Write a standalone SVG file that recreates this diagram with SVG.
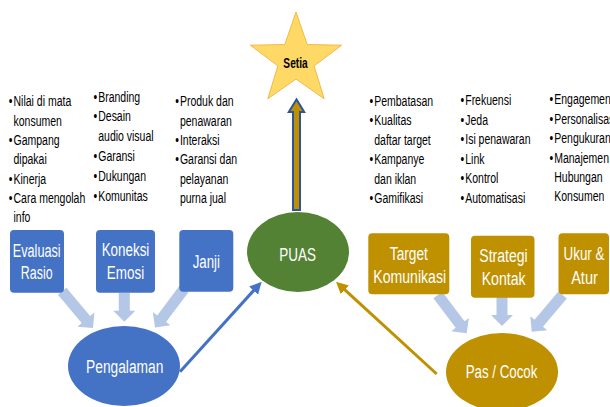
<svg xmlns="http://www.w3.org/2000/svg" width="610" height="407" viewBox="0 0 610 407">
<style>
.bl{font-family:"Liberation Sans",Arial,sans-serif;font-size:14px;fill:#000}
.lbl{font-family:"Liberation Sans",Arial,sans-serif;fill:#fff;text-anchor:middle;font-size:18px}
.blue{fill:#4472C4}
.gold{fill:#BF9000}
.blk{fill:#B4C7E7}
</style>
<defs>
<marker id="ahB" markerUnits="userSpaceOnUse" markerWidth="14" markerHeight="14" refX="4" refY="6" orient="auto" viewBox="0 0 14 12">
<path d="M0,0 L12,6 L0,12 z" fill="#4472C4"/>
</marker>
<marker id="ahG" markerUnits="userSpaceOnUse" markerWidth="14" markerHeight="14" refX="4" refY="6" orient="auto" viewBox="0 0 14 12">
<path d="M0,0 L12,6 L0,12 z" fill="#BF9000"/>
</marker>
</defs>
<rect width="610" height="407" fill="#fff"/>

<!-- bullet lists -->
<g id="list-evaluasi" class="bl" transform="translate(8.8,0) scale(0.75,1)">
<text y="106.5"><tspan x="0">•</tspan><tspan x="6.3">Nilai di mata</tspan></text>
<text x="6.3" y="125.8">konsumen</text>
<text y="145.1"><tspan x="0">•</tspan><tspan x="6.3">Gampang</tspan></text>
<text x="6.3" y="164.4">dipakai</text>
<text y="183.7"><tspan x="0">•</tspan><tspan x="6.3">Kinerja</tspan></text>
<text y="203"><tspan x="0">•</tspan><tspan x="6.3">Cara mengolah</tspan></text>
<text x="6.3" y="222.3">info</text>
</g>
<g id="list-koneksi" class="bl" transform="translate(93.5,0) scale(0.75,1)">
<text y="101.7"><tspan x="0">•</tspan><tspan x="6.3">Branding</tspan></text>
<text y="121.5"><tspan x="0">•</tspan><tspan x="6.3">Desain</tspan></text>
<text x="6.3" y="141.3">audio visual</text>
<text y="161.1"><tspan x="0">•</tspan><tspan x="6.3">Garansi</tspan></text>
<text y="180.9"><tspan x="0">•</tspan><tspan x="6.3">Dukungan</tspan></text>
<text y="200.7"><tspan x="0">•</tspan><tspan x="6.3">Komunitas</tspan></text>
</g>
<g id="list-janji" class="bl" transform="translate(175.2,0) scale(0.75,1)">
<text y="106.5"><tspan x="0">•</tspan><tspan x="6.3">Produk dan</tspan></text>
<text x="6.3" y="125.8">penawaran</text>
<text y="145.1"><tspan x="0">•</tspan><tspan x="6.3">Interaksi</tspan></text>
<text y="164.4"><tspan x="0">•</tspan><tspan x="6.3">Garansi dan</tspan></text>
<text x="6.3" y="183.7">pelayanan</text>
<text x="6.3" y="203">purna jual</text>
</g>
<g id="list-target" class="bl" transform="translate(369.5,0) scale(0.75,1)">
<text y="106"><tspan x="0">•</tspan><tspan x="6.3">Pembatasan</tspan></text>
<text y="125.5"><tspan x="0">•</tspan><tspan x="6.3">Kualitas</tspan></text>
<text x="6.3" y="145">daftar target</text>
<text y="164.5"><tspan x="0">•</tspan><tspan x="6.3">Kampanye</tspan></text>
<text x="6.3" y="184">dan iklan</text>
<text y="203.5"><tspan x="0">•</tspan><tspan x="6.3">Gamifikasi</tspan></text>
</g>
<g id="list-strategi" class="bl" transform="translate(460.5,0) scale(0.75,1)">
<text y="105.5"><tspan x="0">•</tspan><tspan x="6.3">Frekuensi</tspan></text>
<text y="125"><tspan x="0">•</tspan><tspan x="6.3">Jeda</tspan></text>
<text y="144.5"><tspan x="0">•</tspan><tspan x="6.3">Isi penawaran</tspan></text>
<text y="164"><tspan x="0">•</tspan><tspan x="6.3">Link</tspan></text>
<text y="183.5"><tspan x="0">•</tspan><tspan x="6.3">Kontrol</tspan></text>
<text y="203"><tspan x="0">•</tspan><tspan x="6.3">Automatisasi</tspan></text>
</g>
<g id="list-ukur" class="bl" transform="translate(549.5,0) scale(0.75,1)">
<text y="104.5"><tspan x="0">•</tspan><tspan x="6.3">Engagement</tspan></text>
<text y="123.9"><tspan x="0">•</tspan><tspan x="6.3">Personalisasi</tspan></text>
<text y="143.3"><tspan x="0">•</tspan><tspan x="6.3">Pengukuran</tspan></text>
<text y="162.7"><tspan x="0">•</tspan><tspan x="6.3">Manajemen</tspan></text>
<text x="6.3" y="182.1">Hubungan</text>
<text x="6.3" y="201.5">Konsumen</text>
</g>

<!-- connectors -->
<g id="connectors">
<polygon class="blk" points="-48,-5.5 -11,-5.5 -11,-11 0,0 -11,11 -11,5.5 -48,5.5" transform="translate(93,328) rotate(50)"/>
<polygon class="blk" points="-29,-5.5 -11,-5.5 -11,-11 0,0 -11,11 -11,5.5 -29,5.5" transform="translate(124.3,321.7) rotate(90)"/>
<polygon class="blk" points="-48,-5.5 -11,-5.5 -11,-11 0,0 -11,11 -11,5.5 -48,5.5" transform="translate(155,327.5) rotate(127)"/>
<polygon class="blk" points="-48,-5.5 -11,-5.5 -11,-11 0,0 -11,11 -11,5.5 -48,5.5" transform="translate(466.7,333.3) rotate(53)"/>
<polygon class="blk" points="-29,-5.5 -11,-5.5 -11,-11 0,0 -11,11 -11,5.5 -29,5.5" transform="translate(502,326) rotate(90)"/>
<polygon class="blk" points="-48,-5.5 -11,-5.5 -11,-11 0,0 -11,11 -11,5.5 -48,5.5" transform="translate(531.7,331.7) rotate(130)"/>
<line x1="180" y1="371.7" x2="256.3" y2="287.6" stroke="#4472C4" stroke-width="3" marker-end="url(#ahB)"/>
<line x1="436.7" y1="374" x2="341.9" y2="287.1" stroke="#BF9000" stroke-width="3" marker-end="url(#ahG)"/>
<polygon points="293,210 293,112 288.8,112 296.5,99.5 304.2,112 300,112 300,210" fill="#BF9000" stroke="#2F5597" stroke-width="2"/>
</g>

<!-- nodes -->
<g id="setia">
<polygon points="296,12 307.2,44.6 341.7,45.2 314.1,65.9 324.2,98.8 296,79 267.8,98.8 277.9,65.9 250.3,45.2 284.8,44.6" fill="#FFD966" stroke="#F4B942" stroke-width="1"/>
<text x="295.5" y="67.7" font-family="Liberation Sans,Arial,sans-serif" font-size="14" font-weight="bold" fill="#000" text-anchor="middle" textLength="24.3" lengthAdjust="spacingAndGlyphs">Setia</text>
</g>
<g id="evaluasi-rasio">
<rect class="blue" x="10" y="230" width="54" height="62.7" rx="4"/>
<text class="lbl" x="36.7" y="256.5" textLength="48" lengthAdjust="spacingAndGlyphs">Evaluasi</text>
<text class="lbl" x="36.7" y="279" textLength="31.7" lengthAdjust="spacingAndGlyphs">Rasio</text>
</g>
<g id="koneksi-emosi">
<rect class="blue" x="96" y="230" width="59" height="62.7" rx="4"/>
<text class="lbl" x="125.5" y="255.7" textLength="47.7" lengthAdjust="spacingAndGlyphs">Koneksi</text>
<text class="lbl" x="125.5" y="279" textLength="37.3" lengthAdjust="spacingAndGlyphs">Emosi</text>
</g>
<g id="janji">
<rect class="blue" x="179.3" y="230" width="54" height="61.7" rx="4"/>
<text class="lbl" x="206.3" y="268" textLength="27.3" lengthAdjust="spacingAndGlyphs">Janji</text>
</g>
<g id="puas">
<ellipse cx="298" cy="252" rx="51" ry="40" fill="#548235"/>
<text class="lbl" x="297.7" y="261" font-size="22" textLength="36.7" lengthAdjust="spacingAndGlyphs">PUAS</text>
</g>
<g id="pengalaman">
<ellipse class="blue" cx="124" cy="366" rx="56" ry="40"/>
<text class="lbl" x="124.7" y="372.7" font-size="17" textLength="77.3" lengthAdjust="spacingAndGlyphs">Pengalaman</text>
</g>
<g id="target-komunikasi">
<rect class="gold" x="368.3" y="233.3" width="81" height="61" rx="4"/>
<text class="lbl" x="408.8" y="259.5" font-size="19" textLength="38" lengthAdjust="spacingAndGlyphs">Target</text>
<text class="lbl" x="409.7" y="283" font-size="19" textLength="72.7" lengthAdjust="spacingAndGlyphs">Komunikasi</text>
</g>
<g id="strategi-kontak">
<rect class="gold" x="471" y="235.7" width="63.5" height="62" rx="4"/>
<text class="lbl" x="503.5" y="262" font-size="19" textLength="48.3" lengthAdjust="spacingAndGlyphs">Strategi</text>
<text class="lbl" x="503.7" y="285" font-size="19" textLength="44" lengthAdjust="spacingAndGlyphs">Kontak</text>
</g>
<g id="ukur-atur">
<rect class="gold" x="558.5" y="233.3" width="50.5" height="61" rx="4"/>
<text class="lbl" x="584" y="259.5" font-size="19" textLength="41" lengthAdjust="spacingAndGlyphs">Ukur &amp;</text>
<text class="lbl" x="584.5" y="283.5" font-size="19" textLength="26.7" lengthAdjust="spacingAndGlyphs">Atur</text>
</g>
<g id="pas-cocok">
<ellipse class="gold" cx="502" cy="372" rx="56" ry="39"/>
<text class="lbl" x="501.5" y="378.3" textLength="71.7" lengthAdjust="spacingAndGlyphs">Pas / Cocok</text>
</g>
</svg>
